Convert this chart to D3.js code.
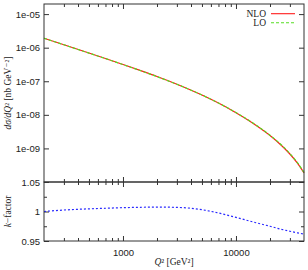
<!DOCTYPE html>
<html>
<head>
<style>
body {margin: 0; background: #fff;}
svg {font-family: "Liberation Serif", "DejaVu Serif", serif; display: block;}
</style>
<script src="https://cdnjs.cloudflare.com/ajax/libs/d3/7.8.5/d3.min.js"></script>
</head>
<body>
<div id="chart-container"></div>
<script>
    // values
    const q2 = [200, 300, 500, 700, 1000, 1500, 2000, 3000, 5000, 7000, 10000, 15000, 20000, 25000, 30000, 35000, 40000];
    const nlo = [1.91e-6, 1.222e-6, 6.93e-7, 4.75e-7, 3.16e-7, 1.968e-7, 1.387e-7, 8.18e-8, 3.90e-8, 2.24e-8, 1.156e-8, 4.90e-9, 2.42e-9, 1.268e-9, 6.82e-10, 3.63e-10, 1.86e-10];
    const lo = [1.91e-6, 1.22e-6, 6.90e-7, 4.73e-7, 3.14e-7, 1.954e-7, 1.377e-7, 8.12e-8, 3.89e-8, 2.25e-8, 1.168e-8, 5.0e-9, 2.48e-9, 1.307e-9, 7.05e-10, 3.77e-10, 1.93e-10];
    const kfac = [1.000, 1.0025, 1.0045, 1.0055, 1.0065, 1.0072, 1.0075, 1.0070, 1.0030, 0.9975, 0.9900, 0.9810, 0.9750, 0.9700, 0.9665, 0.9638, 0.9617];

    const xMajor = [1000, 10000];
    const xMinor = [300, 400, 500, 600, 700, 800, 900, 2000, 3000, 4000, 5000, 6000, 7000, 8000, 9000, 20000, 30000];
    const yTopTicks = [1e-9, 1e-8, 1e-7, 1e-6, 1e-5];
    const yBotTicks = [0.95, 1, 1.05];
    const yBotMinor = [0.975, 1.025];

    const W = 308, H = 270;
    const pLeft = 44, pRight = 304, pTop = 4, pMid = 182, pBottom = 241;
    const axisColor = "#333";
    const fs = "9.5px";

    const svg = d3.select("#chart-container")
        .append("svg")
        .attr("width", W)
        .attr("height", H);

    const x = d3.scaleLog().domain([200, 40000]).range([pLeft, pRight]);
    const yTop = d3.scaleLog().domain([1e-10, 2e-5]).range([pMid, pTop]);
    const yBot = d3.scaleLinear().domain([0.95, 1.05]).range([pBottom, pMid]);

    function styleAxis(g) {
        g.select(".domain").remove();
        g.selectAll(".tick line").attr("stroke", axisColor).attr("stroke-width", 1);
        g.selectAll(".tick text").attr("fill", "#222").style("font-size", fs);
    }

    // x ticks on all horizontal borders (pointing inward)
    const xEdges = [
        [pTop, d3.axisTop, true],
        [pMid, d3.axisBottom, true],
        [pMid, d3.axisTop, true],
        [pBottom, d3.axisBottom, false]
    ];
    xEdges.forEach(function([yy, ax, noLabels]) {
        svg.append("g")
            .attr("transform", `translate(0,${yy})`)
            .call(ax(x).tickValues(xMajor).tickSize(-5).tickPadding(8)
                .tickFormat(noLabels ? "" : d3.format("d")))
            .call(styleAxis);
        svg.append("g")
            .attr("transform", `translate(0,${yy})`)
            .call(ax(x).tickValues(xMinor).tickSize(-3).tickFormat(""))
            .call(styleAxis);
    });

    // upper panel y ticks
    const fmtExp = v => "1e-" + String(-Math.round(Math.log10(v))).padStart(2, "0");
    svg.append("g")
        .attr("transform", `translate(${pLeft},0)`)
        .call(d3.axisLeft(yTop).tickValues(yTopTicks).tickSize(-5).tickPadding(4).tickFormat(fmtExp))
        .call(styleAxis);
    svg.append("g")
        .attr("transform", `translate(${pRight},0)`)
        .call(d3.axisRight(yTop).tickValues(yTopTicks).tickSize(-5).tickFormat(""))
        .call(styleAxis);

    // lower panel y ticks
    svg.append("g")
        .attr("transform", `translate(${pLeft},0)`)
        .call(d3.axisLeft(yBot).tickValues(yBotTicks).tickSize(-5).tickPadding(4).tickFormat(d => String(d)))
        .call(styleAxis);
    svg.append("g")
        .attr("transform", `translate(${pLeft},0)`)
        .call(d3.axisLeft(yBot).tickValues(yBotMinor).tickSize(-3).tickFormat(""))
        .call(styleAxis);
    svg.append("g")
        .attr("transform", `translate(${pRight},0)`)
        .call(d3.axisRight(yBot).tickValues(yBotTicks).tickSize(-5).tickFormat(""))
        .call(styleAxis);
    svg.append("g")
        .attr("transform", `translate(${pRight},0)`)
        .call(d3.axisRight(yBot).tickValues(yBotMinor).tickSize(-3).tickFormat(""))
        .call(styleAxis);

    // curves
    const lineTop = d3.line().x((d, i) => x(q2[i])).y(d => yTop(d)).curve(d3.curveMonotoneX);
    const lineBot = d3.line().x((d, i) => x(q2[i])).y(d => yBot(d)).curve(d3.curveMonotoneX);

    svg.append("path").attr("d", lineTop(nlo))
        .attr("fill", "none").attr("stroke", "#ff1a1a").attr("stroke-width", 1.2);
    svg.append("path").attr("d", lineTop(lo))
        .attr("fill", "none").attr("stroke", "#55dd22").attr("stroke-width", 1.2)
        .attr("stroke-dasharray", "3,2");
    svg.append("path").attr("d", lineBot(kfac))
        .attr("fill", "none").attr("stroke", "#2a2aff").attr("stroke-width", 1.2)
        .attr("stroke-dasharray", "2,2");

    // frames
    svg.append("rect").attr("x", pLeft).attr("y", pTop).attr("width", pRight - pLeft).attr("height", pMid - pTop)
        .attr("fill", "none").attr("stroke", axisColor).attr("stroke-width", 1);
    svg.append("rect").attr("x", pLeft).attr("y", pMid).attr("width", pRight - pLeft).attr("height", pBottom - pMid)
        .attr("fill", "none").attr("stroke", axisColor).attr("stroke-width", 1);

    // legend
    const legend = [["NLO", "#ff1a1a", null], ["LO", "#55dd22", "3,2"]];
    legend.forEach(function([name, col, dash], i) {
        const ly = 13.7 + i * 9;
        svg.append("text").attr("x", 266).attr("y", ly + 3.3)
            .attr("text-anchor", "end").style("font-size", fs).attr("fill", "#222").text(name);
        svg.append("line").attr("x1", 271).attr("x2", 295).attr("y1", ly).attr("y2", ly)
            .attr("stroke", col).attr("stroke-width", 1.1).attr("stroke-dasharray", dash);
    });

    // axis labels
    const yl = svg.append("text")
        .attr("transform", `translate(11,${(pTop + pMid) / 2}) rotate(-90)`)
        .attr("text-anchor", "middle").style("font-size", fs).attr("fill", "#222");
    yl.append("tspan").style("font-style", "italic").text("dσ/dQ");
    yl.append("tspan").text("² [nb GeV⁻²]");

    const kl = svg.append("text")
        .attr("transform", `translate(11,${(pMid + pBottom) / 2}) rotate(-90)`)
        .attr("text-anchor", "middle").style("font-size", fs).attr("fill", "#222");
    kl.append("tspan").style("font-style", "italic").text("k");
    kl.append("tspan").text("−factor");

    const xl = svg.append("text")
        .attr("x", 174).attr("y", 265)
        .attr("text-anchor", "middle").style("font-size", fs).attr("fill", "#222");
    xl.append("tspan").style("font-style", "italic").text("Q");
    xl.append("tspan").text("² [GeV²]");
</script>
</body>
</html>
